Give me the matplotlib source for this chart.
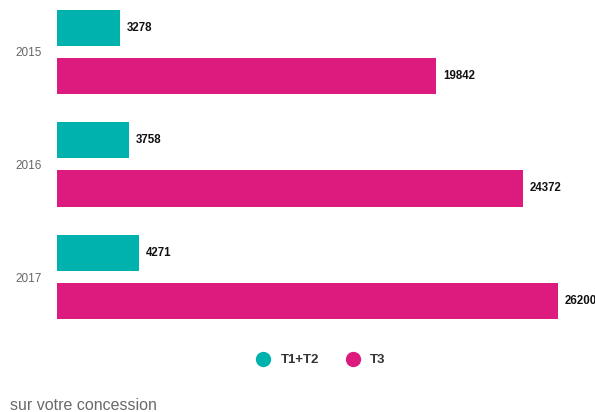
import matplotlib.pyplot as plt
from matplotlib.lines import Line2D

plt.rcParams['font.family'] = ['Liberation Sans', 'DejaVu Sans']

years = ['2015', '2016', '2017']
t1t2 = [3278, 3758, 4271]
t3 = [19842, 24372, 26200]

teal = '#00b2ae'
magenta = '#dd1a7e'

W, H = 595, 412
fig = plt.figure(figsize=(W / 100, H / 100), dpi=100)
# axes placed in pixel terms: left 57px, top 0, bottom 329px
ax = fig.add_axes([57 / W, 1 - 329 / H, 1 - 57 / W, 329 / H])

pos = list(range(len(years)))
off = 24 / 112.5
bh = 36 / 112.5
ax.barh([p - off for p in pos], t1t2, height=bh, color=teal)
ax.barh([p + off for p in pos], t3, height=bh, color=magenta)

xmax = 26200 * (W - 57) / (558 - 57)
ax.set_xlim(0, xmax)
ax.set_ylim(2 + 52 / 112.5, -52 / 112.5)

pad = 7 * xmax / (W - 57)
for p, v in zip(pos, t1t2):
    ax.text(v + pad, p - off, str(v), va='center', ha='left', fontsize=8.3,
            fontweight='bold', color='#111111')
for p, v in zip(pos, t3):
    ax.text(v + pad, p + off, str(v), va='center', ha='left', fontsize=8.3,
            fontweight='bold', color='#111111', clip_on=False)

ax.set_yticks(pos)
ax.set_yticklabels(years, fontsize=8.5, color='#666666')
ax.tick_params(axis='y', length=0, pad=11)
ax.set_xticks([])
for s in ax.spines.values():
    s.set_visible(False)

handles = [
    Line2D([], [], marker='o', linestyle='', markersize=10, color=teal, label='T1+T2'),
    Line2D([], [], marker='o', linestyle='', markersize=10, color=magenta, label='T3'),
]
leg = fig.legend(handles=handles, loc='center', bbox_to_anchor=(318 / W, 1 - 360 / H),
                 ncol=2, frameon=False, handletextpad=0.3, columnspacing=1.6,
                 prop={'weight': 'bold', 'size': 9.5})
for t in leg.get_texts():
    t.set_color('#333333')

fig.text(10 / W, 1 - 405 / H, 'sur votre concession', fontsize=11.5, color='#6a6a6a',
         va='center', ha='left')

fig.savefig('out.png', dpi=100)
